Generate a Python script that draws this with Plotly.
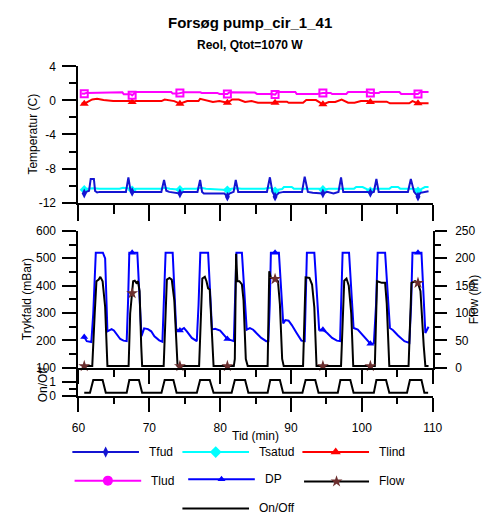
import plotly.graph_objects as go

W, H = 491, 522

# ---------------- data ----------------
# times (min) at which the logger plots a symbol on every curve
marker_t = [60.82, 67.58, 74.32, 81.02, 87.75, 94.5, 101.2, 107.92]

# Tfud (C)
tfud_t = [60.59, 60.82, 61.2, 61.5, 61.73, 62.18, 62.35, 62.64, 63.0, 66.7, 67.05, 67.35, 67.58,
          71.7, 72.08, 72.4, 72.8, 74.32, 74.8, 76.8, 77.17, 77.45, 77.7, 80.6, 81.02, 81.3, 81.9,
          82.2, 82.55, 86.6, 87.02, 87.38, 87.75, 88.29, 88.97, 91.55, 91.93, 92.38, 93.06, 94.5,
          95.1, 96.0, 96.7, 97.06, 97.37, 100.78, 101.2, 101.69, 102.05, 102.37, 106.5, 106.91,
          107.37, 107.92, 108.27, 109.41]
tfud_v = [-11.0, -10.93, -10.7, -10.6, -9.22, -9.22, -10.63, -10.8, -10.74, -10.74, -9.03, -10.6, -10.74,
          -10.74, -9.33, -10.6, -10.74, -10.93, -10.74, -10.74, -9.33, -10.74, -10.93, -10.93, -11.3, -10.93, -10.74,
          -9.33, -10.74, -10.74, -9.03, -10.74, -11.3, -10.85, -10.74, -10.74, -8.95, -10.74, -10.85, -10.93,
          -10.74, -10.93, -10.74, -9.03, -10.74, -10.74, -10.85, -10.74, -9.22, -10.74, -10.74, -9.22,
          -10.74, -11.3, -10.85, -10.66]

# Tsatud (C)
tsat_t = [60.59, 60.82, 61.3, 62.0, 63.0, 65.8, 66.3, 67.0, 67.58, 68.1, 71.6, 72.2, 72.9, 74.32,
          75.0, 76.6, 77.3, 78.0, 81.02, 81.6, 82.3, 83.0, 86.25, 86.9, 87.3, 87.75, 88.1, 88.75,
          89.0, 90.1, 90.4, 94.0, 94.5, 95.3, 98.9, 99.2, 100.1, 100.5, 101.2, 101.7, 103.9, 104.2,
          105.1, 105.4, 107.4, 107.92, 108.6, 108.9, 109.41]
tsat_v = [-10.45, -10.48, -10.36, -10.3, -10.36, -10.36, -10.25, -10.3, -10.52, -10.36, -10.36, -10.25, -10.36, -10.48,
          -10.36, -10.36, -10.25, -10.36, -10.52, -10.36, -10.3, -10.36, -10.36, -10.25, -10.3, -10.63, -10.48, -10.4,
          -10.17, -10.17, -10.36, -10.36, -10.48, -10.36, -10.36, -10.17, -10.17, -10.36, -10.63, -10.36, -10.36, -10.17,
          -10.17, -10.36, -10.36, -10.63, -10.36, -10.17, -10.17]

# Tlind (C)
tlind_t = [60.45, 60.82, 61.95, 62.63, 63.54, 64.9, 67.18, 67.58, 68.08, 71.72, 72.17, 73.53, 74.32,
           75.35, 76.94, 77.17, 78.98, 79.89, 81.02, 81.71, 82.62, 83.52, 84.43, 85.34, 87.16, 87.75,
           88.07, 89.43, 89.66, 91.7, 92.15, 93.52, 94.5, 95.33, 96.24, 97.15, 98.06, 98.97, 99.87,
           100.78, 101.2, 101.69, 103.51, 103.96, 106.68, 107.14, 107.92, 108.73, 109.41]
tlind_v = [-0.34, -0.38, 0.11, 0.19, 0.04, -0.08, -0.08, -0.19, -0.08, -0.08, 0.11, -0.08, -0.38,
           -0.08, -0.08, 0.19, -0.19, -0.08, -0.27, 0.11, 0.11, -0.19, -0.08, -0.27, -0.27, -0.27,
           -0.15, -0.15, -0.27, -0.27, 0.04, 0.04, -0.46, -0.19, -0.19, 0.11, -0.27, -0.27, -0.08,
           -0.08, -0.19, -0.15, -0.15, -0.34, -0.34, -0.08, -0.34, -0.34, -0.34]

# Tlud (C)
tlud_t = [60.45, 60.82, 61.1, 62.2, 62.4, 66.2, 66.4, 67.4, 67.58, 67.9, 68.1, 73.1, 73.3, 74.0,
          74.32, 74.9, 77.2, 77.4, 79.6, 79.9, 81.02, 81.3, 84.9, 85.2, 87.2, 87.75, 88.07, 90.6,
          90.8, 93.7, 94.5, 95.6, 95.8, 97.8, 98.06, 100.8, 101.2, 102.4, 102.6, 105.3, 105.55,
          107.92, 108.27, 109.41]
tlud_v = [0.8, 0.78, 0.88, 0.88, 0.95, 0.95, 0.72, 0.72, 0.6, 0.85, 0.99, 0.99, 0.8, 0.8,
          0.88, 0.95, 0.95, 0.88, 0.88, 0.76, 0.76, 0.95, 0.92, 0.76, 0.76, 0.69, 0.99, 0.99,
          0.76, 0.76, 0.88, 0.88, 0.76, 0.76, 0.99, 0.99, 0.88, 0.88, 0.99, 0.99, 0.76,
          0.76, 0.99, 0.99]

# DP, pressure drop (mBar)
dp_t = [60.59, 60.82, 61.18, 61.82, 62.09, 62.45, 63.45, 63.77, 64.09, 64.36, 64.68, 65.0, 65.59,
        65.9, 66.36, 66.81, 67.0, 67.18, 67.58, 68.31, 68.9, 69.08, 69.27, 69.81, 70.27, 70.72,
        71.4, 71.85, 72.0, 72.3, 73.3, 73.8, 74.32, 74.9, 75.3, 76.0, 76.7, 76.95, 77.2, 78.3,
        78.85, 79.3, 80.0, 80.7, 81.02, 81.93, 82.1, 82.3, 83.07, 83.75, 84.2, 84.66, 85.1, 85.8,
        86.5, 86.8, 87.0, 87.16, 87.75, 88.29, 88.9, 89.2, 89.66, 90.11, 90.79, 91.47, 91.93,
        92.1, 92.24, 93.29, 93.97, 94.5, 95.1, 95.8, 96.47, 96.92, 97.1, 97.28, 98.19, 98.83,
        99.42, 100.1, 100.78, 101.2, 101.69, 102.0, 102.23, 103.28, 103.96, 104.4, 105.1, 106.0,
        106.7, 106.95, 107.14, 107.92, 108.41, 108.96, 109.41]
dp_v = [209, 212, 197, 194, 298, 520, 520, 499, 233, 236, 241, 236, 215,
        205, 199, 197, 340, 520, 520, 520, 215, 233, 244, 241, 233, 215,
        200, 195, 330, 520, 520, 240, 236, 245, 233, 209, 197, 330, 520, 520,
        240, 242, 236, 215, 205, 197, 330, 520, 520, 239, 245, 239, 227, 209,
        197, 197, 330, 520, 520, 520, 262, 274, 272, 256, 227, 199, 197,
        330, 520, 520, 239, 239, 227, 209, 199, 197, 330, 520, 520, 245,
        239, 221, 201, 188, 189, 330, 520, 520, 245, 237, 218, 197,
        191, 330, 520, 520, 520, 227, 250]

# Flow (l/h)
flow_t = [60.82, 61.95, 62.3, 62.54, 62.86, 63.09, 63.41, 63.77, 64.09, 67.08, 67.3, 67.58, 67.72,
          67.95, 68.17, 68.4, 68.63, 68.86, 68.99, 72.03, 72.48, 72.85, 73.17, 73.53, 73.99, 74.32,
          77.03, 77.48, 77.84, 78.07, 78.3, 78.53, 78.85, 79.07, 81.02, 81.93, 82.07, 82.25, 82.43,
          82.71, 83.07, 83.3, 83.62, 83.89, 86.7, 86.93, 87.16, 87.61, 87.75, 88.16, 88.43, 88.75,
          88.97, 91.7, 92.06, 92.6, 92.97, 93.29, 93.6, 94.5, 97.06, 97.51, 97.83, 98.15, 98.5,
          98.78, 101.2, 101.83, 102.14, 102.82, 103.28, 103.51, 103.87, 106.59, 107.0, 107.5,
          107.92, 108.27, 108.73, 108.96, 109.41]
flow_v = [3, 3, 100, 158, 161, 166, 158, 111, 3, 3, 99, 136, 158,
          159, 155, 158, 140, 40, 3, 3, 161, 164, 161, 123, 3, 3,
          3, 163, 166, 158, 145, 143, 51, 3, 3, 3, 16, 208, 158,
          158, 152, 123, 16, 3, 3, 176, 164, 164, 162, 158, 116, 16,
          3, 3, 165, 164, 152, 110, 3, 3, 3, 159, 163, 150, 99,
          3, 3, 3, 158, 155, 155, 117, 3, 3, 155, 158,
          155, 140, 40, 3, 3]

# On/Off signal of the pump
onoff_t = [60.82, 61.63, 62.09, 63.41, 63.86, 66.81, 67.18, 68.54, 68.99, 71.72, 72.17, 73.40, 73.85,
           76.71, 77.17, 78.53, 79.07, 81.62, 82.07, 83.52, 83.98, 86.70, 87.07, 88.43, 88.88,
           91.61, 92.06, 93.42, 93.88, 96.60, 96.97, 98.37, 98.83, 101.69, 102.05, 103.41, 103.87,
           106.37, 106.78, 108.41, 108.82, 109.35]
onoff_v = [0.2, 0.2, 1.12, 1.12, 0.2, 0.2, 1.12, 1.12, 0.2, 0.2, 1.12, 1.12, 0.2,
           0.2, 1.12, 1.12, 0.2, 0.2, 1.12, 1.12, 0.2, 0.2, 1.12, 1.12, 0.2,
           0.2, 1.12, 1.12, 0.2, 0.2, 1.12, 1.12, 0.2, 0.2, 1.12, 1.12, 0.2,
           0.2, 1.12, 1.12, 0.2, 0.2]

x_ticks = [60, 70, 80, 90, 100, 110]
temp_ticks = [-12, -8, -4, 0, 4]
dp_ticks = [100, 200, 300, 400, 500, 600]
flow_ticks = [0, 50, 100, 150, 200, 250]
onoff_ticks = [0, 1]

# ---------------- styling ----------------
FONT = "Arial, Liberation Sans, sans-serif"
C_TFUD = "#1414d2"
C_TSAT = "#00ffff"
C_TLIND = "#ff0000"
C_TLUD = "#ff00ff"
C_DP = "#0000ff"
C_FLOW = "#000000"
C_STAR = "#6b2e2e"

X0, X1 = 74 / W, 441 / W


def pyd(y):
    return 1 - y / H


fig = go.Figure()


def curve(ts, vs, color, xa, ya, symbol, msize, mline=0, mcolor=None):
    fig.add_trace(go.Scatter(x=ts, y=vs, mode="lines", line=dict(color=color, width=2),
                             xaxis=xa, yaxis=ya, showlegend=False, hoverinfo="skip"))
    keys = {round(m, 2) for m in marker_t}
    mx = [t for t in ts if round(t, 2) in keys]
    my = [v for t, v in zip(ts, vs) if round(t, 2) in keys]
    mc = mcolor or color
    fig.add_trace(go.Scatter(x=mx, y=my, mode="markers", cliponaxis=False,
                             marker=dict(symbol=symbol, size=msize, color=mc,
                                         line=dict(color=mc, width=mline)),
                             xaxis=xa, yaxis=ya, showlegend=False, hoverinfo="skip"))


# temperature panel
curve(tsat_t, tsat_v, C_TSAT, "x", "y", "diamond", 7)
curve(tfud_t, tfud_v, C_TFUD, "x", "y", "diamond-tall", 7)
curve(tlind_t, tlind_v, C_TLIND, "x", "y", "triangle-up", 8)
curve(tlud_t, tlud_v, C_TLUD, "x", "y", "square-open", 7, mline=2)

# pressure drop / flow panel
curve(dp_t, dp_v, C_DP, "x2", "y2", "triangle-up", 7)
curve(flow_t, flow_v, C_FLOW, "x2", "y3", "star", 9, mcolor=C_STAR)

# on/off panel
fig.add_trace(go.Scatter(x=onoff_t, y=onoff_v, mode="lines", line=dict(color="black", width=2),
                         xaxis="x3", yaxis="y4", showlegend=False, hoverinfo="skip"))


def labels(vals):
    # plain hyphen for negative numbers
    return [str(v) for v in vals]


axis_common = dict(showline=True, linewidth=2, linecolor="black", ticks="outside",
                   tickwidth=2, tickcolor="black", showgrid=False, zeroline=False,
                   tickfont=dict(family=FONT, size=12, color="black"))

fig.update_layout(
    width=W, height=H,
    margin=dict(l=0, r=0, t=0, b=0),
    paper_bgcolor="white", plot_bgcolor="rgba(0,0,0,0)",
    font=dict(family=FONT, color="black"),
    showlegend=False,
    xaxis=dict(domain=[X0, X1], range=[60, 110], anchor="y", tickvals=x_ticks,
               showticklabels=False, ticklen=16,
               minor=dict(dtick=5, tick0=60, ticklen=9, tickwidth=2, ticks="outside", tickcolor="black"),
               **axis_common),
    yaxis=dict(domain=[pyd(201), pyd(61)], range=[-12, 4], anchor="x",
               tickvals=temp_ticks, ticktext=labels(temp_ticks),
               ticklen=14, ticklabelstandoff=4,
               minor=dict(dtick=2, tick0=0, ticklen=7, tickwidth=2, ticks="outside", tickcolor="black"),
               **axis_common),
    xaxis2=dict(domain=[X0, X1], range=[60, 110], anchor="y2", tickvals=x_ticks,
                showticklabels=False, ticklen=14,
                minor=dict(dtick=5, tick0=60, ticklen=7, tickwidth=2, ticks="outside", tickcolor="black"),
                **axis_common),
    yaxis2=dict(domain=[pyd(370.7), pyd(230)], range=[100, 600], anchor="x2",
                tickvals=dp_ticks, ticktext=labels(dp_ticks),
                ticklen=14, ticklabelstandoff=4,
                minor=dict(dtick=50, tick0=0, ticklen=7, tickwidth=2, ticks="outside", tickcolor="black"),
                **axis_common),
    yaxis3=dict(domain=[pyd(370.7), pyd(230)], range=[0, 250], anchor="x2", overlaying="y2",
                side="right", tickvals=flow_ticks, ticktext=labels(flow_ticks),
                ticklen=12, ticklabelstandoff=6,
                minor=dict(dtick=25, tick0=0, ticklen=6, tickwidth=2, ticks="outside", tickcolor="black"),
                **axis_common),
    xaxis3=dict(domain=[X0, X1], range=[60, 110], anchor="y4", tickvals=x_ticks,
                ticktext=labels(x_ticks),
                showticklabels=True, ticklen=14, ticklabelstandoff=6,
                minor=dict(dtick=5, tick0=60, ticklen=6, tickwidth=2, ticks="outside", tickcolor="black"),
                **axis_common),
    yaxis4=dict(domain=[pyd(399.3), pyd(370.7)], range=[0, 2], anchor="x3",
                tickvals=onoff_ticks, ticktext=labels(onoff_ticks),
                ticklen=14, ticklabelstandoff=4,
                minor=dict(tickvals=[0.5], ticklen=7, tickwidth=2, ticks="outside", tickcolor="black"),
                **axis_common),
    xaxis4=dict(domain=[0, 1], range=[0, W], visible=False, fixedrange=True, anchor="y5"),
    yaxis5=dict(domain=[0, 1], range=[H, 0], visible=False, fixedrange=True, anchor="x4"),
)


def note(x, y, text, size=12, angle=0, bold=False, anchor="center"):
    if bold:
        text = "<b>" + text + "</b>"
    fig.add_annotation(x=x / W, y=pyd(y), xref="paper", yref="paper", text=text, showarrow=False,
                       textangle=angle, xanchor=anchor, yanchor="middle",
                       font=dict(family=FONT, size=size, color="black"))


note(252, 16, "Forsøg pump_cir_1_41", size=15, bold=True)
note(252, 39, "Reol, Qtot=1070 W", size=12, bold=True)
note(27, 131, "Temperatur (C)", angle=-90)
note(21, 300, "Trykfald (mBar)", angle=-90)
note(37, 388, "On/Off", angle=-90)
note(484, 301, "Flow (l/h)", angle=-90)
note(257, 441, "Tid (min)")

# legend block
legend_rows = [
    ("Tfud", C_TFUD, "diamond-tall", 8, None, 67.7, 136.7, 457.3),
    ("Tsatud", C_TSAT, "diamond", 9, None, 181.7, 250.7, 457.3),
    ("Tlind", C_TLIND, "triangle-up", 9, None, 306, 375, 457.3),
    ("Tlud", C_TLUD, "circle", 10, None, 70, 139, 486.7),
    ("DP", C_DP, "triangle-up", 7, None, 187.7, 256.7, 485.2),
    ("Flow", C_FLOW, "star", 9, C_STAR, 307.7, 375, 487.5),
    ("On/Off", "black", None, 0, None, 181.7, 250.7, 515.3),
]
for name, col, sym, ms, mcol, lx0, lx1, ly in legend_rows:
    fig.add_trace(go.Scatter(x=[lx0, lx1], y=[ly, ly], mode="lines", line=dict(color=col, width=2),
                             xaxis="x4", yaxis="y5", showlegend=False, hoverinfo="skip", cliponaxis=False))
    if sym:
        fig.add_trace(go.Scatter(x=[(lx0 + lx1) / 2], y=[ly], mode="markers", cliponaxis=False,
                                 marker=dict(symbol=sym, size=ms, color=mcol or col),
                                 xaxis="x4", yaxis="y5", showlegend=False, hoverinfo="skip"))
    note(lx1 + 8, ly, name, anchor="left")

fig.write_html("out.html")
